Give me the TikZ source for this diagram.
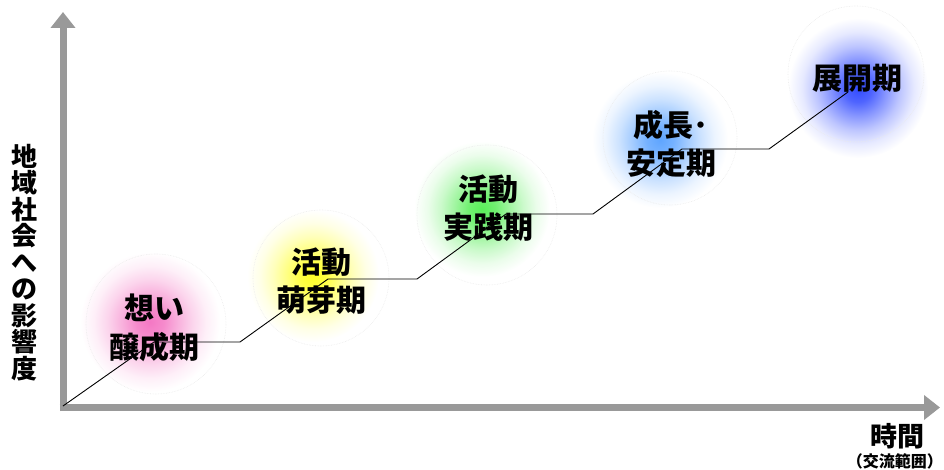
\documentclass[tikz,border=0pt]{standalone}
\usepackage{fontspec}
\setmainfont{Noto Sans CJK JP}
\usetikzlibrary{arrows.meta}
\colorlet{glowc}{red}
\pgfdeclareradialshading[glowc]{glow}{\pgfpoint{0bp}{0bp}}{%
  color(0bp)=(glowc); color(5bp)=(glowc!86!white); color(10bp)=(glowc!58!white);
  color(15bp)=(glowc!32!white); color(20bp)=(glowc!12!white); color(25bp)=(white); color(50bp)=(white)}
\definecolor{axisgray}{RGB}{153,153,153}
\definecolor{gpink}{RGB}{244,120,196}
\definecolor{gyellow}{RGB}{255,255,40}
\definecolor{ggreen}{RGB}{90,238,90}
\definecolor{glblue}{RGB}{95,165,255}
\definecolor{gblue}{RGB}{50,75,255}
\tikzset{
  axis/.style={draw=axisgray, line width=7pt, -{Triangle[width=24pt,length=16pt]}},
  stair/.style={draw=black, line width=0.9pt, line join=miter},
  phase/.style={font=\fontsize{30}{38.5}\selectfont\bfseries, align=center, inner sep=0pt, text=black},
  ring/.style={draw=black!8, line width=0.6pt, densely dotted},
}
\newcommand\glowat[3]{\colorlet{glowc}{#1}\shade[shading=glow] #2 circle (#3);}
\begin{document}
\begin{tikzpicture}[x=1pt,y=-1pt]
\useasboundingbox (0,0) rectangle (944,470);
% glows
\glowat{gpink}{(150,322)}{70}
\glowat{gyellow}{(313,276)}{66}
\glowat{ggreen}{(482,209)}{68}
\glowat{glblue}{(660,140)}{68}
\glowat{gblue}{(858,88)}{70}
% faint rings
\draw[ring] (156,324) circle (70);
\draw[ring] (321,278) circle (68);
\draw[ring] (487,215) circle (70);
\draw[ring] (670,138) circle (67);
\draw[ring] (856,74) circle (68);
% axes
\coordinate (O) at (63,407.5);
\coordinate (ytip) at (63,12);
\coordinate (xtip) at (940,407.5);
\draw[axis] (63,411) -- (ytip);
\draw[axis] (59.5,407.5) -- (xtip);
% stairs
\coordinate (s0) at (63,406);
\coordinate (s1) at (154,342);
\coordinate (s2) at (240,342);
\coordinate (s3) at (328,279);
\coordinate (s4) at (417,279);
\coordinate (s5) at (506,214);
\coordinate (s6) at (593,214);
\coordinate (s7) at (682,149);
\coordinate (s8) at (769,149);
\coordinate (s9) at (848,92);
\draw[stair] (s0) -- (s1) -- (s2) -- (s3) -- (s4) -- (s5) -- (s6) -- (s7) -- (s8) -- (s9);
% labels
\node[phase] (p1) at (154,328) {想い\\醸成期};
\node[phase] (p2) at (321,281) {活動\\萌芽期};
\node[phase] (p3) at (488,208) {活動\\実践期};
\node[phase] (p4) at (671,144) {成長･\\安定期};
\node[phase] (p5) at (857,78) {展開期};
\node[font=\fontsize{26}{26.5}\selectfont\bfseries, align=center, inner sep=0pt] (ylab) at (25,262.5)
  {地\\域\\社\\会\\へ\\の\\影\\響\\度};
\node[font=\fontsize{27}{30}\selectfont\bfseries, inner sep=0pt] (xlab) at (897,436) {時間};
\node[font=\fontsize{16}{19}\selectfont\bfseries, inner sep=0pt, anchor=east] (xlab2) at (943,461) {（交流範囲）};
\end{tikzpicture}
\end{document}
